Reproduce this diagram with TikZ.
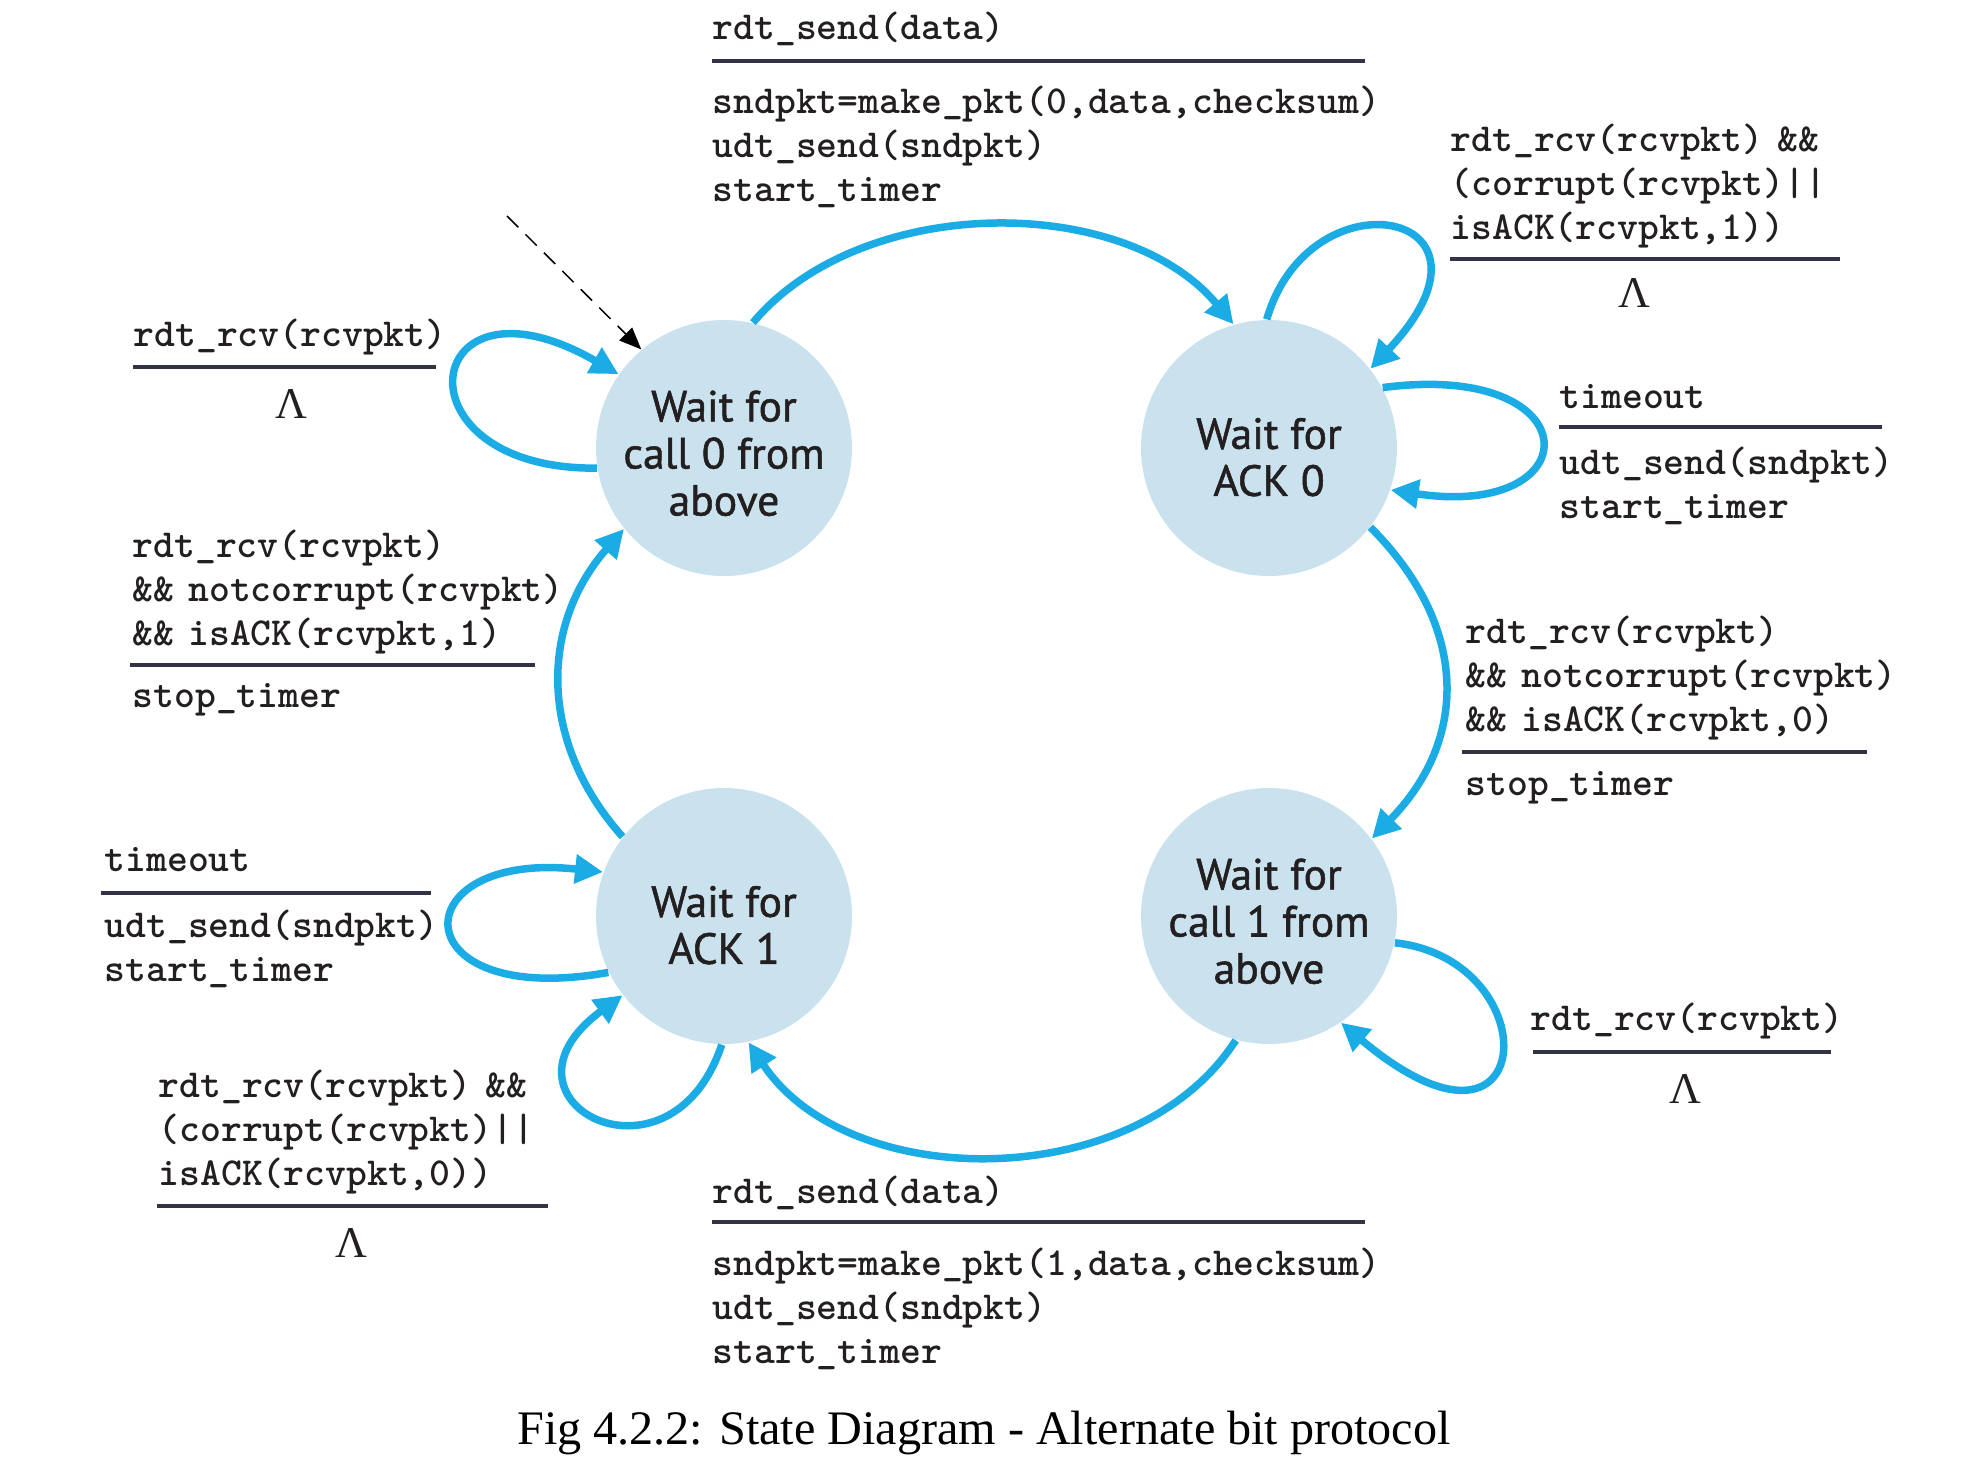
\documentclass[tikz,border=0pt]{standalone}
\usepackage{fontspec}
\newfontfamily\statefont{PT Sans}[FakeBold=1.2]
\newfontfamily\capfont{Liberation Serif}
\usetikzlibrary{arrows.meta}
\definecolor{arcblue}{RGB}{27,172,229}
\definecolor{statefill}{RGB}{202,226,238}
\definecolor{rulegray}{RGB}{50,52,70}
\definecolor{inkblack}{RGB}{35,31,32}
\newcommand{\amp}{\&\&\hspace{0.35em}}
\begin{document}
\begin{tikzpicture}[x=0.1mm,y=-0.1mm,
	state/.style={circle,fill=statefill,minimum size=25.6mm,inner sep=0pt,align=center,text=inkblack,font=\statefont\fontsize{12.4}{13.4}\selectfont},
	trans/.style={draw=arcblue,line width=0.75mm,-{Triangle[length=2.8mm,width=2.8mm]}},
	initarrow/.style={draw=black,line width=0.15mm,dash pattern=on 1.6mm off 1mm,-{Triangle[length=2.2mm,width=1.8mm]}},
	lbl/.style={anchor=west,inner sep=0pt,align=left,text=inkblack,font=\ttfamily\bfseries\fontsize{11.3}{12.6}\selectfont},
	lam/.style={inner sep=0pt,text=inkblack,font=\capfont\fontsize{12.5}{14}\selectfont},
	bar/.style={draw=rulegray,line width=0.32mm}]
	\useasboundingbox (0,0) rectangle (1986,1464);
	\node[state] (call0) at (724,448) {\rule{0pt}{11.8pt}Wait for\\call 0 from\\above};
	\node[state] (ack0) at (1269,448) {\rule{0pt}{14pt}Wait for\\ACK 0};
	\node[state] (call1) at (1269,916) {\rule{0pt}{11.8pt}Wait for\\call 1 from\\above};
	\node[state] (ack1) at (724,916) {\rule{0pt}{14pt}Wait for\\ACK 1};
	\coordinate (init) at (507,216);
	\draw[initarrow] (init) -- (call0.130);
	\draw[trans] (call0.77) .. controls (862,193) and (1124,193) .. (ack0.106);
	\draw[trans] (ack0.322) .. controls (1469,626) and (1469,739) .. (call1.37);
	\draw[trans] (call1.255) .. controls (1137,1194) and (849,1194) .. (ack1.281);
	\draw[trans] (ack1.142) .. controls (539,743) and (539,626) .. (call0.219);
	\draw[trans] (call0.189) .. controls (390,470) and (420,260) .. (call0.145);
	\draw[trans] (ack0.91) .. controls (1310,170) and (1520,210) .. (ack0.38);
	\draw[trans] (ack0.28) .. controls (1592,360) and (1592,520) .. (ack0.341);
	\draw[trans] (call1.348) .. controls (1550,960) and (1540,1190) .. (call1.304);
	\draw[trans] (ack1.206) .. controls (400,1010) and (400,850) .. (ack1.160);
	\draw[trans] (ack1.269) .. controls (670,1200) and (480,1100) .. (ack1.218);
	\node[lbl] (sendg0) at (712,29) {rdt\_send(data)};
	\draw[bar] (712,61) -- (1365,61);
	\node[lbl] (senda0) at (712,147) {sndpkt=make\_pkt(0,data,checksum)\\udt\_send(sndpkt)\\start\_timer};
	\node[lbl] (rcvg0) at (133,337) {rdt\_rcv(rcvpkt)};
	\draw[bar] (133,367) -- (436,367);
	\node[lam] (rcva0) at (291,404) {Λ};
	\node[lbl] (ackg1) at (132,592) {rdt\_rcv(rcvpkt)\\\amp notcorrupt(rcvpkt)\\\amp isACK(rcvpkt,1)};
	\draw[bar] (130,665) -- (535,665);
	\node[lbl] (acka1) at (132,700) {stop\_timer};
	\node[lbl] (dupg0) at (1450,186) {rdt\_rcv(rcvpkt)\hspace{0.35em}\&\&\\(corrupt(rcvpkt)||\\isACK(rcvpkt,1))};
	\draw[bar] (1450,259) -- (1840,259);
	\node[lam] (dupa0) at (1634,293) {Λ};
	\node[lbl] (tmog0) at (1559,397) {timeout};
	\draw[bar] (1559,427) -- (1882,427);
	\node[lbl] (tmoa0) at (1559,486) {udt\_send(sndpkt)\\start\_timer};
	\node[lbl] (ackg0) at (1465,678) {rdt\_rcv(rcvpkt)\\\amp notcorrupt(rcvpkt)\\\amp isACK(rcvpkt,0)};
	\draw[bar] (1462,752) -- (1867,752);
	\node[lbl] (acka0) at (1465,788) {stop\_timer};
	\node[lbl] (rcvg1) at (1530,1021) {rdt\_rcv(rcvpkt)};
	\draw[bar] (1533,1052) -- (1831,1052);
	\node[lam] (rcva1) at (1685,1089) {Λ};
	\node[lbl] (sendg1) at (712,1193) {rdt\_send(data)};
	\draw[bar] (712,1222) -- (1365,1222);
	\node[lbl] (senda1) at (712,1309) {sndpkt=make\_pkt(1,data,checksum)\\udt\_send(sndpkt)\\start\_timer};
	\node[lbl] (tmog1) at (104,860) {timeout};
	\draw[bar] (101,893) -- (431,893);
	\node[lbl] (tmoa1) at (104,949) {udt\_send(sndpkt)\\start\_timer};
	\node[lbl] (dupg1) at (158,1132) {rdt\_rcv(rcvpkt)\hspace{0.35em}\&\&\\(corrupt(rcvpkt)||\\isACK(rcvpkt,0))};
	\draw[bar] (157,1206) -- (548,1206);
	\node[lam] (dupa1) at (351,1243) {Λ};
	\node[anchor=base,inner sep=0pt,text=black,font=\capfont\fontsize{13.7}{16}\selectfont] (caption) at (984,1444) {Fig 4.2.2: State Diagram - Alternate bit protocol};
\end{tikzpicture}
\end{document}
